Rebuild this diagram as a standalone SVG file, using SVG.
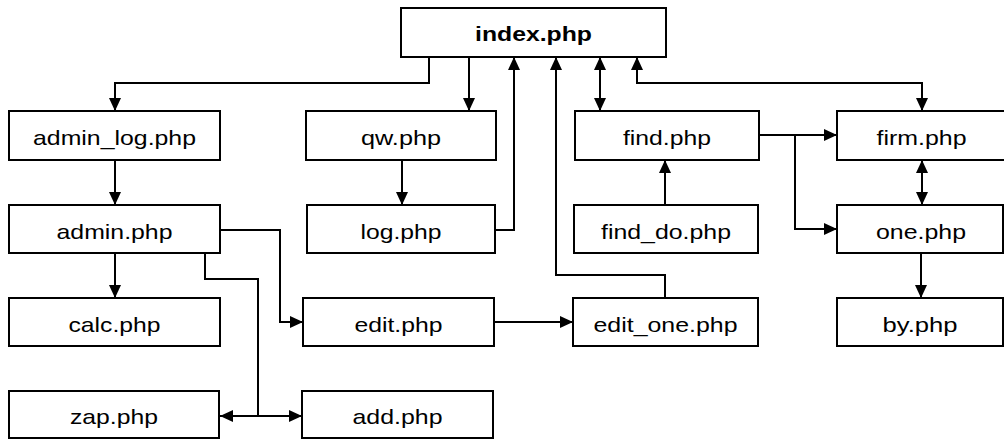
<svg xmlns="http://www.w3.org/2000/svg" width="1004" height="440" viewBox="0 0 1004 440">
<style>
.box{fill:#fff;stroke:#000;stroke-width:2}
.t{font-family:"Liberation Sans",Arial,sans-serif;font-size:21px;fill:#000;text-anchor:middle}
.b{font-weight:bold}
.c{fill:none;stroke:#000;stroke-width:2}
</style>
<defs>
<marker id="ah" markerUnits="userSpaceOnUse" markerWidth="13" markerHeight="12" refX="13" refY="6" orient="auto-start-reverse">
<path d="M0,0 L13,6 L0,12 z" fill="#000"/>
</marker>
</defs>
<rect width="1004" height="440" fill="#fff"/>
<g id="connectors">
<path class="c" d="M429,57 V83 H115 V111" marker-end="url(#ah)"/>
<path class="c" d="M469,57 V111" marker-end="url(#ah)"/>
<path class="c" d="M496,230 H514 V57" marker-end="url(#ah)"/>
<path class="c" d="M665,298 V275 H556 V57" marker-end="url(#ah)"/>
<path class="c" d="M600,57 V111" marker-start="url(#ah)" marker-end="url(#ah)"/>
<path class="c" d="M637,57 V83 H922 V111" marker-start="url(#ah)" marker-end="url(#ah)"/>
<path class="c" d="M115,160 V205" marker-end="url(#ah)"/>
<path class="c" d="M402,160 V205" marker-end="url(#ah)"/>
<path class="c" d="M665,205 V160" marker-end="url(#ah)"/>
<path class="c" d="M759,135 H837" marker-end="url(#ah)"/>
<path class="c" d="M795,135 V229 H837" marker-end="url(#ah)"/>
<path class="c" d="M922,160 V205" marker-start="url(#ah)" marker-end="url(#ah)"/>
<path class="c" d="M115,253 V298" marker-end="url(#ah)"/>
<path class="c" d="M220,230 H280 V322 H303" marker-end="url(#ah)"/>
<path class="c" d="M205,253 V279 H258 V416"/>
<path class="c" d="M258,416 H220" marker-end="url(#ah)"/>
<path class="c" d="M258,416 H302" marker-end="url(#ah)"/>
<path class="c" d="M494,322 H573" marker-end="url(#ah)"/>
<path class="c" d="M921,253 V298" marker-end="url(#ah)"/>
</g>
<g id="index"><rect class="box" x="401" y="8" width="265" height="49"/><text class="t b" x="533.5" y="41" textLength="117" lengthAdjust="spacingAndGlyphs">index.php</text></g>
<g id="admin_log"><rect class="box" x="9" y="111" width="211" height="49"/><text class="t" x="114.5" y="145" textLength="163" lengthAdjust="spacingAndGlyphs">admin_log.php</text></g>
<g id="qw"><rect class="box" x="306" y="111" width="190" height="49"/><text class="t" x="401" y="145" textLength="80" lengthAdjust="spacingAndGlyphs">qw.php</text></g>
<g id="find"><rect class="box" x="575" y="111" width="184" height="49"/><text class="t" x="667" y="145" textLength="88" lengthAdjust="spacingAndGlyphs">find.php</text></g>
<g id="firm"><rect class="box" x="837" y="111" width="170" height="49"/><text class="t" x="921.5" y="145" textLength="90" lengthAdjust="spacingAndGlyphs">firm.php</text></g>
<g id="admin"><rect class="box" x="9" y="205" width="211" height="48"/><text class="t" x="114.5" y="238.5" textLength="116" lengthAdjust="spacingAndGlyphs">admin.php</text></g>
<g id="log"><rect class="box" x="307" y="205" width="188" height="48"/><text class="t" x="401" y="238.5" textLength="81" lengthAdjust="spacingAndGlyphs">log.php</text></g>
<g id="find_do"><rect class="box" x="574" y="205" width="184" height="48"/><text class="t" x="666" y="238.5" textLength="130" lengthAdjust="spacingAndGlyphs">find_do.php</text></g>
<g id="one"><rect class="box" x="837" y="205" width="166" height="48"/><text class="t" x="921" y="238.5" textLength="90" lengthAdjust="spacingAndGlyphs">one.php</text></g>
<g id="calc"><rect class="box" x="9" y="298" width="211" height="48"/><text class="t" x="114.5" y="331.5" textLength="92" lengthAdjust="spacingAndGlyphs">calc.php</text></g>
<g id="edit"><rect class="box" x="303" y="298" width="191" height="48"/><text class="t" x="398.5" y="331.5" textLength="88" lengthAdjust="spacingAndGlyphs">edit.php</text></g>
<g id="edit_one"><rect class="box" x="573" y="298" width="185" height="48"/><text class="t" x="665.5" y="331.5" textLength="144" lengthAdjust="spacingAndGlyphs">edit_one.php</text></g>
<g id="by"><rect class="box" x="837" y="298" width="166" height="48"/><text class="t" x="920" y="331.5" textLength="75" lengthAdjust="spacingAndGlyphs">by.php</text></g>
<g id="zap"><rect class="box" x="9" y="391" width="210" height="47"/><text class="t" x="114" y="424" textLength="88" lengthAdjust="spacingAndGlyphs">zap.php</text></g>
<g id="add"><rect class="box" x="302" y="391" width="191" height="47"/><text class="t" x="397.5" y="424" textLength="90" lengthAdjust="spacingAndGlyphs">add.php</text></g>
</svg>
